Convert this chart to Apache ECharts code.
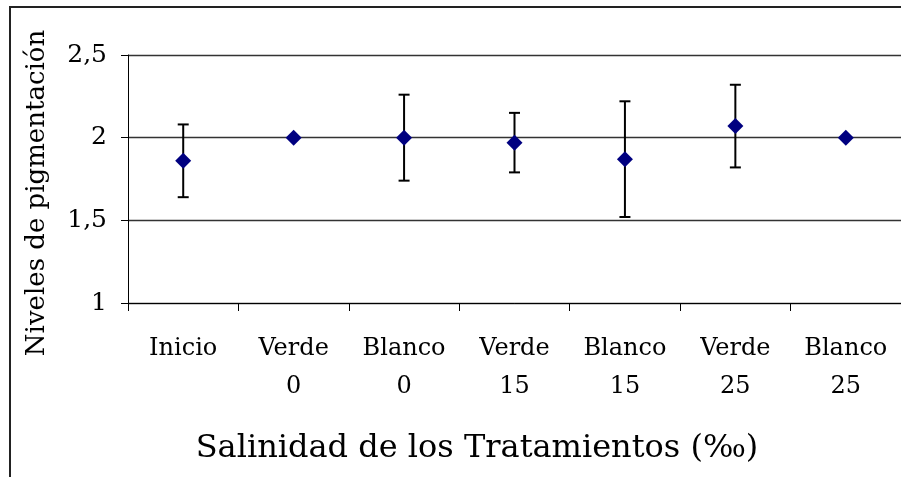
<!DOCTYPE html>
<html>
<head>
<meta charset="utf-8">
<script src="https://cdn.jsdelivr.net/npm/echarts@6/dist/echarts.min.js"></script>
<style>html,body{margin:0;padding:0;background:#fff}#c{width:901px;height:477px}</style>
</head>
<body>
<div id="c"></div>
<script>
const categories = ['Inicio', 'Verde\n0', 'Blanco\n0', 'Verde\n15', 'Blanco\n15', 'Verde\n25', 'Blanco\n25'];
const means = [1.86, 2.00, 2.00, 1.97, 1.87, 2.07, 2.00];
const errors = [0.22, 0, 0.26, 0.18, 0.35, 0.25, 0];
const yTitle = 'Niveles de pigmentación';
const xTitle = 'Salinidad de los Tratamientos (‰)';

const FONT = '"DejaVu Serif", serif';
const chart = echarts.init(document.getElementById('c'), null, {renderer: 'canvas'});
const errData = categories.map((c, i) => [i, means[i] - errors[i], means[i] + errors[i]]);

chart.setOption({
  animation: false,
  backgroundColor: '#fff',
  grid: {left: 128, top: 55, width: 780, bottom: 174, containLabel: false},
  xAxis: {
    type: 'category',
    data: categories,
    boundaryGap: true,
    axisLine: {lineStyle: {color: '#000', width: 1}},
    axisTick: {show: true, length: 8, interval: 0, lineStyle: {color: '#000'}},
    axisLabel: {interval: 0, margin: 27, color: '#000', fontFamily: FONT, fontSize: 24, lineHeight: 38, align: 'center'},
    splitLine: {show: false}
  },
  yAxis: {
    type: 'value',
    min: 1, max: 2.5, interval: 0.5,
    axisLine: {show: true, lineStyle: {color: '#000', width: 1}},
    axisTick: {show: true, length: 7, lineStyle: {color: '#000'}},
    axisLabel: {margin: 21, color: '#000', fontFamily: FONT, fontSize: 25,
      formatter: v => String(v).replace('.', ',')},
    splitLine: {show: true, lineStyle: {color: '#333', width: 1.3}}
  },
  graphic: [
    {type: 'rect', shape: {x: 10, y: 7, width: 1000, height: 1000}, style: {fill: 'none', stroke: '#222', lineWidth: 2}, silent: true},
    {type: 'text', x: 37, y: 193, rotation: Math.PI / 2,
      style: {text: yTitle, font: '26px ' + FONT, fill: '#000', textAlign: 'center', textVerticalAlign: 'middle'}},
    {type: 'text', x: 477, y: 449,
      style: {text: xTitle, font: '32px ' + FONT, fill: '#000', textAlign: 'center', textVerticalAlign: 'middle'}}
  ],
  series: [
    {
      type: 'custom',
      data: errData,
      z: 2,
      renderItem: function (params, api) {
        const x = api.value(0);
        const pLo = api.coord([x, api.value(1)]);
        const pHi = api.coord([x, api.value(2)]);
        const hw = 5.5;
        const st = {stroke: '#000', lineWidth: 2};
        return {type: 'group', children: [
          {type: 'line', shape: {x1: pHi[0], y1: pHi[1], x2: pLo[0], y2: pLo[1]}, style: st},
          {type: 'line', shape: {x1: pHi[0] - hw, y1: pHi[1], x2: pHi[0] + hw, y2: pHi[1]}, style: st},
          {type: 'line', shape: {x1: pLo[0] - hw, y1: pLo[1], x2: pLo[0] + hw, y2: pLo[1]}, style: st}
        ]};
      }
    },
    {
      type: 'scatter',
      data: means,
      z: 3,
      symbol: 'diamond',
      symbolSize: 16,
      itemStyle: {color: '#000080', opacity: 1}
    }
  ]
});
</script>
</body>
</html>
